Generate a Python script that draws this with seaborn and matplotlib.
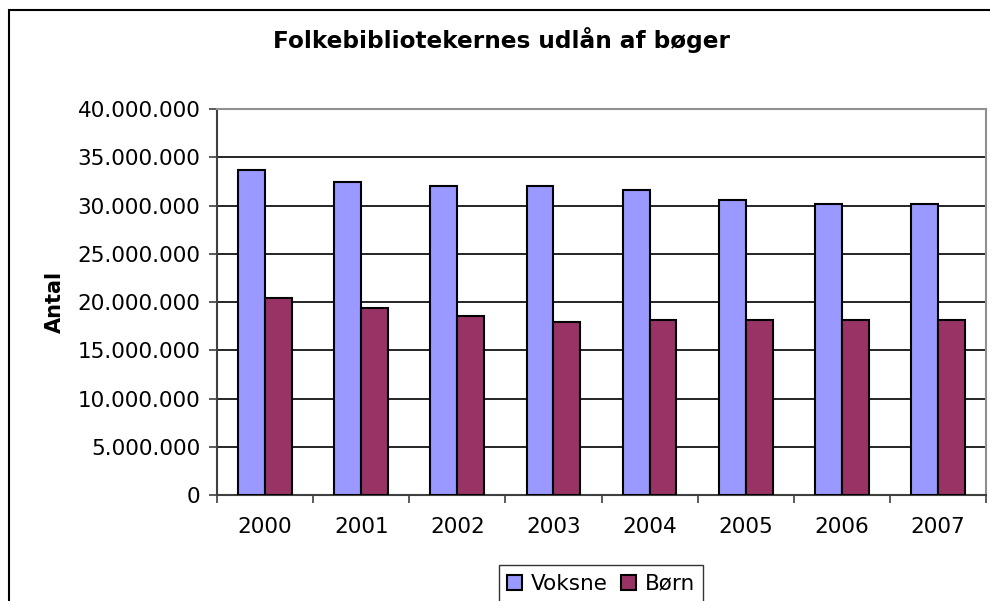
import numpy as np
import pandas as pd
import matplotlib
matplotlib.use("Agg")
import matplotlib.pyplot as plt
import seaborn as sns
from matplotlib.patches import Rectangle
from matplotlib.ticker import FuncFormatter, FixedLocator

# -------------------------------
# Data
# -------------------------------
years = ["2000", "2001", "2002", "2003", "2004", "2005", "2006", "2007"]
voksne = [33650000, 32450000, 32050000, 32050000, 31600000, 30550000, 30150000, 30150000]
boern = [20450000, 19400000, 18600000, 17900000, 18150000, 18150000, 18150000, 18150000]
series_names = ["Voksne", "Børn"]
colors = ["#9999FF", "#993366"]

df = pd.DataFrame({
    "Aar": years * 2,
    "Antal": voksne + boern,
    "Gruppe": [series_names[0]] * len(years) + [series_names[1]] * len(years),
})

# -------------------------------
# Figure
# -------------------------------
sns.set_style("white")
plt.rcParams["font.family"] = ["DejaVu Sans"]
plt.rcParams["text.color"] = "black"
plt.rcParams["axes.labelcolor"] = "black"
plt.rcParams["xtick.color"] = "black"
plt.rcParams["ytick.color"] = "black"

fig = plt.figure(figsize=(9.9, 6.01), dpi=100)
ax = fig.add_axes([217 / 990, 1 - 495 / 601, (986 - 217) / 990, (495 - 109) / 601])

sns.barplot(data=df, x="Aar", y="Antal", hue="Gruppe", palette=colors,
            width=0.56, gap=0, edgecolor="black", linewidth=1.5,
            saturation=1, ax=ax, legend=True, zorder=3)

ax.set_ylim(0, 40000000)
ax.set_xlim(-0.5, 7.5)
ax.set_yticks(np.arange(0, 40000001, 5000000))
ax.yaxis.set_major_formatter(FuncFormatter(lambda v, p: f"{int(v):,}".replace(",", ".")))
ax.yaxis.grid(True, color="black", linewidth=1.2, zorder=0)
ax.set_axisbelow(True)

# ticks between categories like the original
ax.tick_params(axis="x", which="major", length=0, pad=16, labelsize=15.5, labelcolor="black")
ax.xaxis.set_minor_locator(FixedLocator(np.arange(-0.5, 8, 1)))
ax.tick_params(axis="x", which="minor", length=6, width=1.2, color="#404040", direction="out", bottom=True)
ax.tick_params(axis="y", length=6, width=1.2, color="#404040", direction="out", left=True,
               pad=6, labelsize=15.5, labelcolor="black")

ax.set_xlabel("")
ax.set_ylabel("Antal", fontsize=15, fontweight="bold", labelpad=9, color="black")

for side in ["top", "right"]:
    ax.spines[side].set_color("#909090")
    ax.spines[side].set_linewidth(1.5)
for side in ["left", "bottom"]:
    ax.spines[side].set_color("#404040")
    ax.spines[side].set_linewidth(1.5)

fig.text(501 / 990, 1 - 40 / 601, "Folkebibliotekernes udlån af bøger",
         ha="center", va="center", fontsize=16.7, fontweight="bold", color="black")

# legend under the plot
handles, labels = ax.get_legend_handles_labels()
ax.get_legend().remove()
leg = fig.legend(handles, labels, loc="upper center", ncol=2,
                 bbox_to_anchor=(601 / 990, 1 - 565 / 601),
                 frameon=True, fancybox=False, edgecolor="black",
                 fontsize=15.5, handlelength=0.7, handleheight=0.7,
                 handletextpad=0.4, columnspacing=0.6, borderpad=0.4,
                 borderaxespad=0)
leg.get_frame().set_linewidth(1.0)
for t in leg.get_texts():
    t.set_color("black")

# outer chart border
fig.patches.append(Rectangle((9 / 990, -0.05), 1.1, 1 - 10 / 601 + 0.05,
                             transform=fig.transFigure, fill=False,
                             edgecolor="black", linewidth=1.5))

fig.savefig("out.png", dpi=100)
